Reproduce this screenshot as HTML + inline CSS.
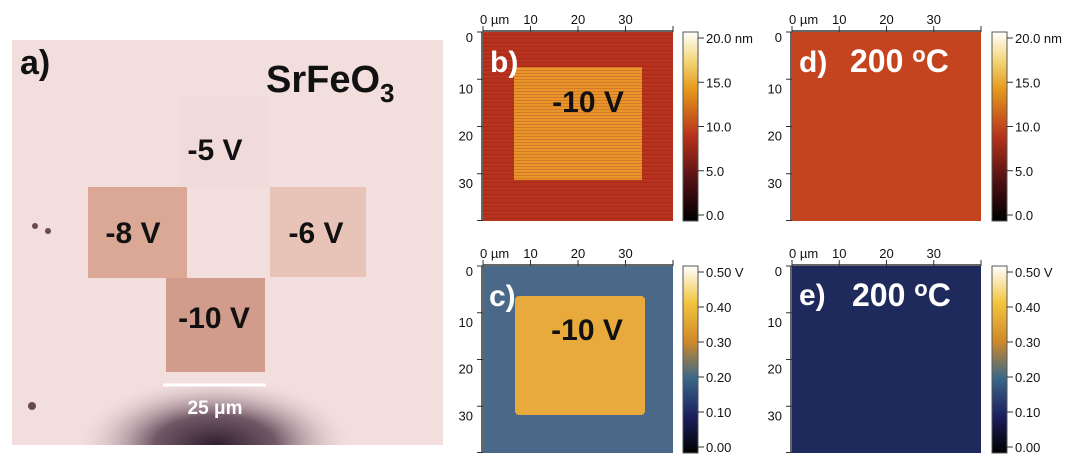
<!DOCTYPE html>
<html><head><meta charset="utf-8"><style>
html,body{margin:0;padding:0;background:#fff;width:1080px;height:463px;overflow:hidden;}
svg{display:block;font-family:"Liberation Sans",sans-serif;}
.lab{font-weight:bold;}
</style></head><body>
<svg id="fig" width="1080" height="463" viewBox="0 0 1080 463">
<defs>
<radialGradient id="blob" cx="0.5" cy="1" r="0.5" gradientTransform="translate(0.5 1) scale(1 2.2) translate(-0.5 -1)">
<stop offset="0" stop-color="#2e1e2e" stop-opacity="1"/>
<stop offset="0.45" stop-color="#5a4050" stop-opacity="0.85"/>
<stop offset="1" stop-color="#d9c0c8" stop-opacity="0"/>
</radialGradient>
<linearGradient id="cbHeight" x1="0" y1="1" x2="0" y2="0">
<stop offset="0" stop-color="#000"/><stop offset="0.2" stop-color="#4a0f12"/>
<stop offset="0.45" stop-color="#b8321b"/><stop offset="0.7" stop-color="#e59a1c"/>
<stop offset="0.85" stop-color="#f4d77a"/><stop offset="1" stop-color="#fff"/>
</linearGradient>
<linearGradient id="cbVolt" x1="0" y1="1" x2="0" y2="0">
<stop offset="0" stop-color="#000"/><stop offset="0.2" stop-color="#1c2060"/>
<stop offset="0.4" stop-color="#3a6888"/><stop offset="0.6" stop-color="#d08a2a"/>
<stop offset="0.8" stop-color="#f2c43c"/><stop offset="1" stop-color="#fff"/>
</linearGradient>
<pattern id="streakR" width="190" height="4" patternUnits="userSpaceOnUse">
<rect width="190" height="4" fill="#b8321e"/><rect y="2" width="190" height="1" fill="#a42a1a"/>
</pattern>
<pattern id="streakY" width="130" height="3" patternUnits="userSpaceOnUse">
<rect width="130" height="3" fill="#e8962a"/><rect y="1" width="130" height="1" fill="#d5782a"/>
</pattern>
</defs>

<g>
<rect x="12" y="40" width="431" height="405" fill="#f2dedd"/>
<rect x="180" y="97" width="88" height="90" fill="#f0dbda"/>
<rect x="88" y="187" width="99" height="91" fill="#dba896"/>
<rect x="270" y="187" width="96" height="90" fill="#e8c4b8"/>
<rect x="166" y="278" width="99" height="94" fill="#d19c8c"/>
<rect x="80" y="385" width="270" height="60" fill="url(#blob)"/>
<circle cx="35" cy="226" r="3" fill="#6a4850"/><circle cx="48" cy="231" r="3" fill="#6a4850"/><circle cx="32" cy="406" r="4" fill="#6a4850"/>
<line x1="163" y1="385" x2="266" y2="385" stroke="#fff" stroke-width="3"/>
<text x="215" y="414" text-anchor="middle" font-size="19" fill="#fff" font-weight="bold">25 μm</text>
<text x="20" y="74" font-size="34" class="lab" fill="#111">a)</text>
<text x="266" y="92" font-size="38" class="lab" fill="#111">SrFeO<tspan font-size="26" dy="10">3</tspan></text>
<text x="215" y="160" text-anchor="middle" font-size="30" class="lab" fill="#111">-5 V</text>
<text x="133" y="243" text-anchor="middle" font-size="30" class="lab" fill="#111">-8 V</text>
<text x="316" y="243" text-anchor="middle" font-size="30" class="lab" fill="#111">-6 V</text>
<text x="214" y="328" text-anchor="middle" font-size="30" class="lab" fill="#111">-10 V</text>
</g>

<g>
<rect x="483" y="32" width="190" height="189" fill="url(#streakR)"/>
<rect x="514" y="67" width="128" height="113" fill="url(#streakY)"/>
<text x="490" y="72" font-size="30" class="lab" fill="#fff">b)</text>
<text x="588" y="112" text-anchor="middle" font-size="30" class="lab" fill="#111">-10 V</text>
</g>
<g>
<rect x="483" y="266" width="190" height="187" fill="#4a6888"/>
<rect x="515" y="296" width="130" height="119" rx="4" fill="#e8aa3c"/>
<text x="489" y="306" font-size="30" class="lab" fill="#fff">c)</text>
<text x="587" y="340" text-anchor="middle" font-size="30" class="lab" fill="#111">-10 V</text>
</g>
<g>
<rect x="792" y="32" width="189" height="189" fill="#c4441f"/>
<text x="799" y="72" font-size="30" class="lab" fill="#fff">d)</text>
<text x="850" y="72" font-size="32" class="lab" fill="#fff">200 <tspan font-size="22" dy="-10">o</tspan><tspan dy="10">C</tspan></text>
</g>
<g>
<rect x="792" y="266" width="189" height="187" fill="#1f2a5c"/>
<text x="799" y="305" font-size="30" class="lab" fill="#fff">e)</text>
<text x="852" y="306" font-size="32" class="lab" fill="#fff">200 <tspan font-size="22" dy="-10">o</tspan><tspan dy="10">C</tspan></text>
</g>
<g id="axes"></g>
</svg>
<script>
const xTicks = [0, 10, 20, 30];
const yTicks = [0, 10, 20, 30];
const heightTicks = [0, 5, 10, 15, 20];
const heightLabels = ["0.0", "5.0", "10.0", "15.0", "20.0 nm"];
const voltTicks = [0, 0.1, 0.2, 0.3, 0.4, 0.5];
const voltLabels = ["0.00", "0.10", "0.20", "0.30", "0.40", "0.50 V"];
const panels = [
  {name:'b', x:483, y:32, w:190, h:189, cbx:683, cb:'height'},
  {name:'c', x:483, y:266, w:190, h:187, cbx:683, cb:'volt'},
  {name:'d', x:792, y:32, w:189, h:189, cbx:992, cb:'height'},
  {name:'e', x:792, y:266, w:189, h:187, cbx:992, cb:'volt'}
];
const NS = 'http://www.w3.org/2000/svg';
const g = document.getElementById('axes');
function mk(tag, attrs, txt){const e=document.createElementNS(NS,tag);for(const k in attrs)e.setAttribute(k,attrs[k]);if(txt!==undefined)e.textContent=txt;g.appendChild(e);return e;}
const span = 40;
panels.forEach(p=>{
  const sx = v => p.x + v/span*p.w;
  const sy = v => p.y + v/span*p.h;
  let e = mk('line',{x1:p.x,y1:p.y-1,x2:p.x+p.w,y2:p.y-1,stroke:'#333','stroke-width':1.5});
  
  
  e = mk('line',{x1:p.x-1,y1:p.y,x2:p.x-1,y2:p.y+p.h,stroke:'#333','stroke-width':1.5});
  
  
  xTicks.concat([40]).forEach(t=>{mk('line',{x1:sx(t),y1:p.y-6,x2:sx(t),y2:p.y,stroke:'#333'});});
  xTicks.forEach(t=>{
    const lab = mk('text',{x:sx(t),y:p.y-8,'font-size':13,'text-anchor':t===0?'start':'middle',fill:'#111'}, t===0?'0 µm':String(t));
    if(t===0) lab.setAttribute('x', sx(t)-3);
    
    
  });
  yTicks.concat([40]).forEach(t=>{const yy=Math.min(sy(t),p.y+p.h-0.5);mk('line',{x1:p.x-6,y1:yy,x2:p.x,y2:yy,stroke:'#333'});});
  yTicks.forEach(t=>{
    const lab = mk('text',{x:p.x-10,y:sy(t)+(t===0?10:14),'font-size':13,'text-anchor':'end',fill:'#111'}, String(t));
    
    
  });
  const isH = p.cb==='height';
  const ticks = isH?heightTicks:voltTicks, labels = isH?heightLabels:voltLabels, max = isH?20:0.5;
  const cy0 = p.y, ch = p.h;
  const cbar = mk('rect',{x:p.cbx,y:cy0,width:15,height:ch,fill:isH?'url(#cbHeight)':'url(#cbVolt)',stroke:'#555','stroke-width':1});
  
  
  const cyv = v => cy0 + ch - 6 - v/max*(ch-12);
  ticks.forEach((t,i)=>{
    mk('line',{x1:p.cbx+15,y1:cyv(t),x2:p.cbx+21,y2:cyv(t),stroke:'#333'});
    const lab = mk('text',{x:p.cbx+23,y:cyv(t)+5,'font-size':13,fill:'#111'}, labels[i]);
    
    
  });
});
</script>
</body></html>
